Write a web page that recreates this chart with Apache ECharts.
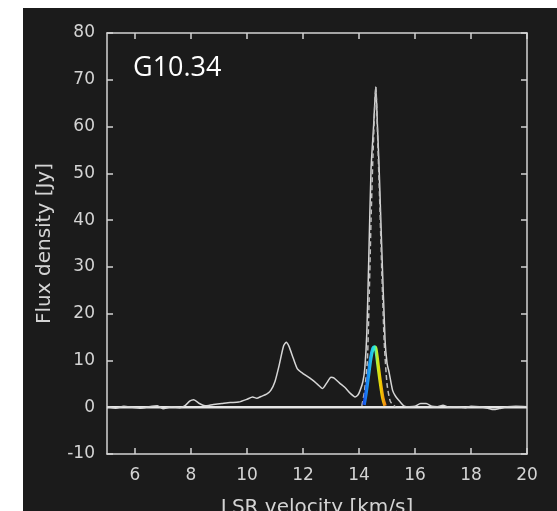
<!DOCTYPE html>
<html>
<head>
<meta charset="utf-8">
<script src="https://cdn.jsdelivr.net/npm/echarts@6/dist/echarts.min.js"></script>
<style>
  html, body { margin: 0; padding: 0; background: #fff; }
  #chart { position: absolute; left: 23px; top: 8px; width: 534px; height: 503px; }
</style>
</head>
<body>
<div id="chart"></div>
<script>
// 光谱数据 (LSR velocity km/s, flux Jy)
const spectrum = [
  [5.0, 0.1], [5.3, -0.2], [5.6, 0.2], [5.9, 0.0], [6.2, -0.2], [6.5, 0.1],
  [6.8, 0.3], [7.0, -0.3], [7.3, 0.1], [7.6, -0.1], [7.8, 0.4], [7.95, 1.3],
  [8.1, 1.6], [8.3, 0.8], [8.5, 0.3], [8.8, 0.6], [9.1, 0.8], [9.4, 1.0],
  [9.7, 1.1], [10.0, 1.7], [10.2, 2.2], [10.35, 1.9], [10.5, 2.3], [10.7, 2.8],
  [10.85, 3.6], [11.0, 5.5], [11.15, 9.0], [11.3, 13.0], [11.4, 13.9], [11.5, 13.0],
  [11.65, 10.5], [11.8, 8.2], [12.0, 7.2], [12.25, 6.2], [12.5, 5.0], [12.7, 4.0],
  [12.85, 5.2], [13.0, 6.4], [13.1, 6.3], [13.3, 5.2], [13.5, 4.2], [13.7, 2.9],
  [13.86, 2.2], [13.96, 2.6], [14.04, 3.6], [14.14, 5.5], [14.21, 8.5], [14.28, 16],
  [14.35, 32], [14.43, 50.9], [14.52, 60], [14.6, 68.5], [14.66, 60], [14.72, 50.9],
  [14.81, 34.4], [14.93, 14.4], [15.0, 9.5], [15.08, 7.3], [15.2, 3.6], [15.3, 2.4],
  [15.46, 1.2], [15.6, 0.3], [15.8, 0.1], [16.0, 0.2],
  [16.2, 0.8], [16.4, 0.8], [16.6, 0.2], [16.8, 0.1], [17.0, 0.4], [17.2, 0.0],
  [17.5, 0.1], [17.8, -0.1], [18.0, 0.2], [18.3, 0.1], [18.6, -0.2], [18.8, -0.5],
  [19.0, -0.3], [19.3, 0.1], [19.6, 0.2], [20.0, 0.1]
];

// 主峰虚线 (第二条谱线)
const peakDashed = [
  [14.1, 0.3], [14.2, 3.5], [14.3, 10], [14.37, 25], [14.43, 40], [14.5, 54],
  [14.6, 68.5], [14.68, 55], [14.75, 42], [14.82, 28], [14.9, 14], [15.0, 5],
  [15.12, 1.2], [15.3, 0.1]
];

// 基线
const baseline = [[5, 0], [20, 0]];

// 彩色模型峰
const modelPeak = [
  [14.18, 0.5], [14.25, 3.0], [14.33, 6.5], [14.42, 10.5], [14.5, 12.6],
  [14.55, 12.9], [14.6, 12.5], [14.68, 9.0], [14.77, 5.0], [14.85, 2.0],
  [14.93, 0.3]
];

const xTicks = [6, 8, 10, 12, 14, 16, 18, 20];
const title = 'G10.34';

const axisColor = '#d4d4d4';
const textColor = '#d4d4d4';
const font = 'DejaVu Sans';

const chart = echarts.init(document.getElementById('chart'));

const tickStyle = { inside: true, length: 6, lineStyle: { color: axisColor, width: 1.5 } };
const lineStyle = { show: true, onZero: false, lineStyle: { color: axisColor, width: 1.5 } };

chart.setOption({
  backgroundColor: '#1b1b1b',
  animation: false,
  title: {
    text: title,
    left: 105,
    top: 42,
    textStyle: { color: '#ffffff', fontSize: 27, fontWeight: 'normal', fontFamily: 'Open Sans' }
  },
  grid: { left: 84, top: 25, right: 30, bottom: 57, outerBoundsMode: 'none' },
  xAxis: [{
    type: 'value', min: 5, max: 20,
    name: 'LSR velocity [km/s]',
    nameLocation: 'middle', nameGap: 44,
    nameTextStyle: { color: textColor, fontSize: 20, fontFamily: font },
    axisLine: lineStyle,
    axisTick: Object.assign({ customValues: xTicks }, tickStyle),
    axisLabel: { customValues: xTicks, color: textColor, fontSize: 17, margin: 13, fontFamily: font },
    splitLine: { show: false }
  }, {
    type: 'value', min: 5, max: 20, position: 'top',
    axisLine: lineStyle,
    axisTick: Object.assign({ customValues: xTicks }, tickStyle),
    axisLabel: { show: false },
    splitLine: { show: false }
  }],
  yAxis: [{
    type: 'value', min: -10, max: 80, interval: 10,
    name: 'Flux density [Jy]',
    nameLocation: 'middle', nameGap: 52,
    nameTextStyle: { color: textColor, fontSize: 20, fontFamily: font },
    axisLine: lineStyle,
    axisTick: Object.assign({ show: true }, tickStyle),
    axisLabel: { color: textColor, fontSize: 17, margin: 12, fontFamily: font },
    splitLine: { show: false }
  }, {
    type: 'value', min: -10, max: 80, interval: 10, position: 'right',
    axisLine: lineStyle,
    axisTick: Object.assign({ show: true }, tickStyle),
    axisLabel: { show: false },
    splitLine: { show: false }
  }],
  series: [
    {
      type: 'line', data: baseline, symbol: 'none',
      lineStyle: { color: '#e6e6e6', width: 2.5 }
    },
    {
      type: 'line', data: spectrum, symbol: 'none', smooth: 0.2,
      lineStyle: { color: '#d6d6d6', width: 1.5 }
    },
    {
      type: 'line', data: peakDashed, symbol: 'none', smooth: 0.2,
      lineStyle: { color: '#bdbdbd', width: 1.5, type: [5, 3] }
    },
    {
      type: 'line', data: modelPeak, symbol: 'none', smooth: 0.3,
      lineStyle: {
        width: 3.5,
        color: new echarts.graphic.LinearGradient(0, 0, 1, 0, [
          { offset: 0, color: '#1030e0' },
          { offset: 0.16, color: '#1a70f0' },
          { offset: 0.36, color: '#20b8f0' },
          { offset: 0.5, color: '#30f0d0' },
          { offset: 0.59, color: '#b8f030' },
          { offset: 0.72, color: '#f0d000' },
          { offset: 0.9, color: '#f09010' },
          { offset: 1, color: '#f07010' }
        ])
      }
    }
  ]
});
</script>
</body>
</html>
